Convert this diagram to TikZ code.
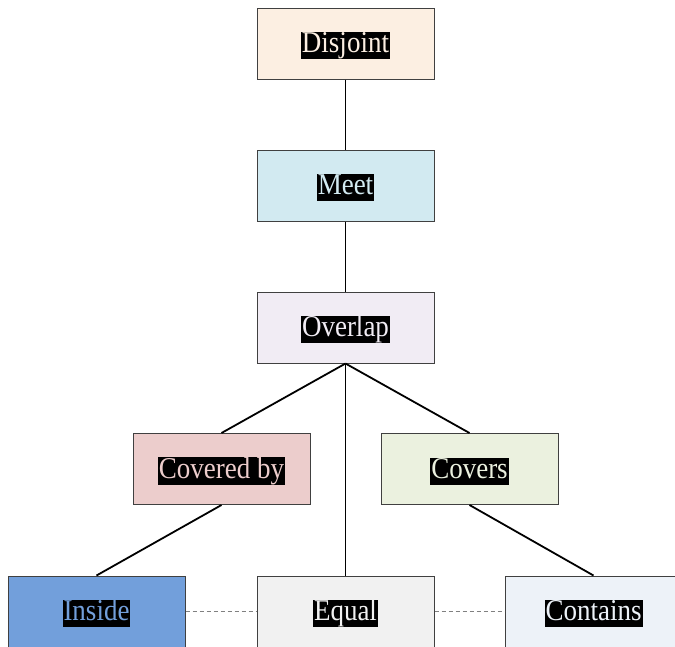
\documentclass[tikz,border=0pt]{standalone}
\usepackage{graphicx}
\usepackage{fontspec}
\setmainfont{Liberation Serif}

% fill colours of the relation boxes
\definecolor{cDisjoint}{HTML}{FCEFE2}
\definecolor{cMeet}{HTML}{D2EAF1}
\definecolor{cOverlap}{HTML}{F1ECF4}
\definecolor{cCoveredby}{HTML}{ECCDCC}
\definecolor{cCovers}{HTML}{EBF1DF}
\definecolor{cInside}{HTML}{729FDB}
\definecolor{cEqual}{HTML}{F1F1F1}
\definecolor{cContains}{HTML}{EDF2F8}
\definecolor{edgegray}{HTML}{404040}
\definecolor{dashgray}{HTML}{808080}

% black highlight behind a label, text keeps the node's text colour
\newcommand{\hlabel}[1]{{\setlength{\fboxsep}{0pt}\colorbox{black}{\hspace{1pt}\rule[-6.5pt]{0pt}{27pt}\scalebox{1}[1.12]{#1}\hspace{1pt}}}}

\tikzset{
  relbox/.style={draw=edgegray, line width=1pt, minimum width=177pt,
    minimum height=71pt, inner sep=0pt, fill=#1},
  rellabel/.style={text=#1, inner sep=0pt, yshift=-2pt,
    font=\fontsize{27}{32}\selectfont},
  link/.style={line width=1.8pt, black},
  peer/.style={line width=1pt, dashgray, dash pattern=on 4pt off 3pt},
}

\begin{document}
\begin{tikzpicture}[x=1pt, y=-1pt]
  \useasboundingbox (0,0) rectangle (675,646);

  \node[relbox=cDisjoint]  (disjoint)  at (345.5,43.5)  {};
  \node[relbox=cMeet]      (meet)      at (345.5,185.5) {};
  \node[relbox=cOverlap]   (overlap)   at (345.5,327.5) {};
  \node[relbox=cCoveredby] (coveredby) at (221.5,469)   {};
  \node[relbox=cCovers]    (covers)    at (469.5,469)   {};
  \node[relbox=cInside]    (inside)    at (96.5,611.5)  {};
  \node[relbox=cEqual]     (equal)     at (345.5,611.5) {};
  \node[relbox=cContains]  (contains)  at (593.5,611.5) {};

  \node[rellabel=cDisjoint]  (tdisjoint)  at (disjoint)  {\hlabel{Disjoint}};
  \node[rellabel=cMeet]      (tmeet)      at (meet)      {\hlabel{Meet}};
  \node[rellabel=cOverlap]   (toverlap)   at (overlap)   {\hlabel{Overlap}};
  \node[rellabel=cCoveredby] (tcoveredby) at (coveredby) {\hlabel{Covered by}};
  \node[rellabel=cCovers]    (tcovers)    at (covers)    {\hlabel{Covers}};
  \node[rellabel=cInside]    (tinside)    at (inside)    {\hlabel{Inside}};
  \node[rellabel=cEqual]     (tequal)     at (equal)     {\hlabel{Equal}};
  \node[rellabel=cContains]  (tcontains)  at (contains)  {\hlabel{Contains}};

  \draw[link] (disjoint.south) -- (meet.north);
  \draw[link] (meet.south) -- (overlap.north);
  \draw[link] (overlap.south) -- (coveredby.north);
  \draw[link] (overlap.south) -- (covers.north);
  \draw[link] (overlap.south) -- (equal.north);
  \draw[link] (coveredby.south) -- (inside.north);
  \draw[link] (covers.south) -- (contains.north);

  \draw[peer] (inside.east) -- (equal.west);
  \draw[peer] (equal.east) -- (contains.west);
\end{tikzpicture}
\end{document}
